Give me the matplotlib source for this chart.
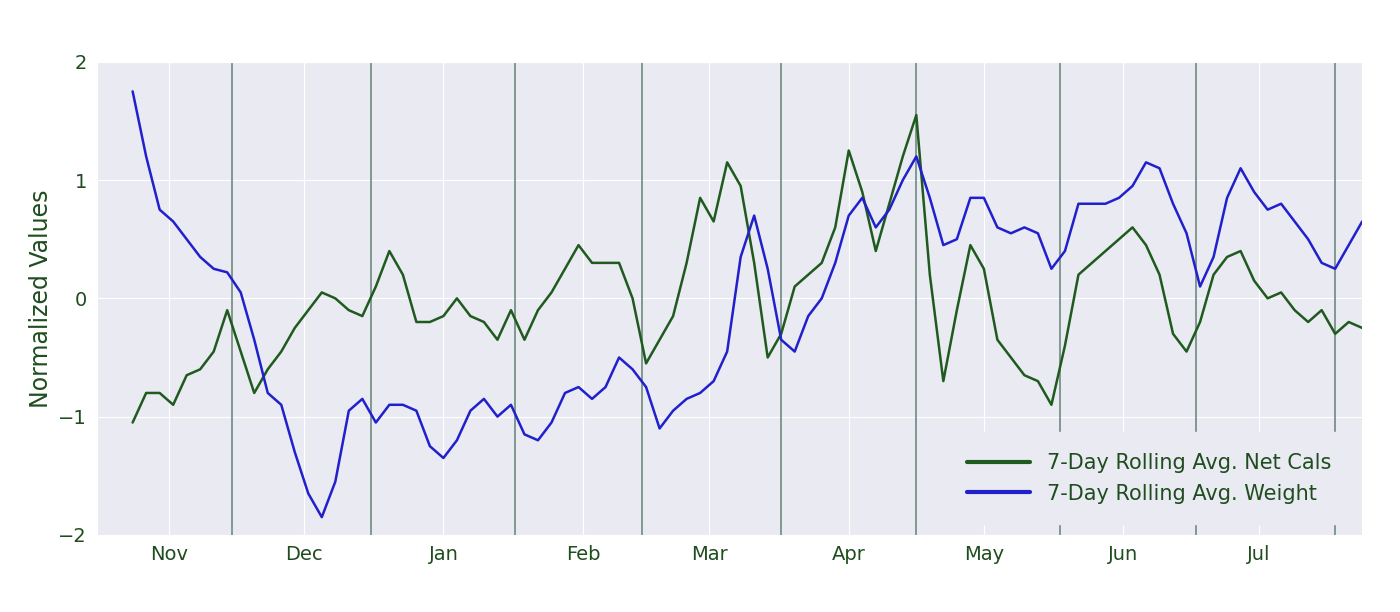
import numpy as np
import pandas as pd
import matplotlib
matplotlib.use('Agg')
import matplotlib.pyplot as plt
import matplotlib.dates as mdates
import seaborn as sns

# 3-day samples
net_cals = [-1.05, -0.8, -0.8, -0.9, -0.65, -0.6, -0.45, -0.1, -0.45, -0.8,
            -0.6, -0.45, -0.25, -0.1, 0.05, 0.0, -0.1, -0.15, 0.1, 0.4,
            0.2, -0.2, -0.2, -0.15, 0.0, -0.15, -0.2, -0.35, -0.1, -0.35,
            -0.1, 0.05, 0.25, 0.45, 0.3, 0.3, 0.3, 0.0, -0.55, -0.35,
            -0.15, 0.3, 0.85, 0.65, 1.15, 0.95, 0.3, -0.5, -0.3, 0.1,
            0.2, 0.3, 0.6, 1.25, 0.9, 0.4, 0.8, 1.2, 1.55, 0.2,
            -0.7, -0.1, 0.45, 0.25, -0.35, -0.5, -0.65, -0.7, -0.9, -0.4,
            0.2, 0.3, 0.4, 0.5, 0.6, 0.45, 0.2, -0.3, -0.45, -0.2,
            0.2, 0.35, 0.4, 0.15, 0.0, 0.05, -0.1, -0.2, -0.1, -0.3,
            -0.2, -0.25]
weight = [1.75, 1.2, 0.75, 0.65, 0.5, 0.35, 0.25, 0.22, 0.05, -0.35,
          -0.8, -0.9, -1.3, -1.65, -1.85, -1.55, -0.95, -0.85, -1.05, -0.9,
          -0.9, -0.95, -1.25, -1.35, -1.2, -0.95, -0.85, -1.0, -0.9, -1.15,
          -1.2, -1.05, -0.8, -0.75, -0.85, -0.75, -0.5, -0.6, -0.75, -1.1,
          -0.95, -0.85, -0.8, -0.7, -0.45, 0.35, 0.7, 0.25, -0.35, -0.45,
          -0.15, 0.0, 0.3, 0.7, 0.85, 0.6, 0.75, 1.0, 1.2, 0.85,
          0.45, 0.5, 0.85, 0.85, 0.6, 0.55, 0.6, 0.55, 0.25, 0.4,
          0.8, 0.8, 0.8, 0.85, 0.95, 1.15, 1.1, 0.8, 0.55, 0.1,
          0.35, 0.85, 1.1, 0.9, 0.75, 0.8, 0.65, 0.5, 0.3, 0.25,
          0.45, 0.65]
dates = pd.date_range('2017-10-24', periods=len(net_cals), freq='3D')
markers = ['2017-11-15', '2017-12-16', '2018-01-17', '2018-02-14', '2018-03-17',
           '2018-04-16', '2018-05-18', '2018-06-17', '2018-07-18']

sns.set_style('darkgrid')
text_col = '#1f4d1f'

fig = plt.figure(figsize=(14, 6.12), dpi=100)
ax = fig.add_axes([0.069, 0.126, 0.904, 0.773])

for m in markers:
    ax.axvline(pd.Timestamp(m), color='#6f8a80', lw=1.2, zorder=1)

ax.plot(dates, net_cals, color='#1f5a1f', lw=1.8, label='7-Day Rolling Avg. Net Cals', zorder=3)
ax.plot(dates, weight, color='#2020cc', lw=1.8, label='7-Day Rolling Avg. Weight', zorder=3)

ax.set_ylim(-2, 2)
ax.set_yticks([-2, -1, 0, 1, 2])
ax.set_xlim(pd.Timestamp('2017-10-16'), pd.Timestamp('2018-07-24'))
ax.xaxis.set_major_locator(mdates.MonthLocator())
ax.xaxis.set_major_formatter(mdates.DateFormatter('%b'))
ax.tick_params(labelsize=14, colors=text_col)
ax.set_ylabel('Normalized Values', fontsize=17, color=text_col)

leg = ax.legend(loc='lower right', fontsize=15, frameon=True, framealpha=1,
                facecolor='#eaeaf2', edgecolor='#eaeaf2', handlelength=3,
                borderpad=1.0)
for t in leg.get_texts():
    t.set_color(text_col)
for h in leg.get_lines():
    h.set_linewidth(3)

plt.savefig('out.png')
